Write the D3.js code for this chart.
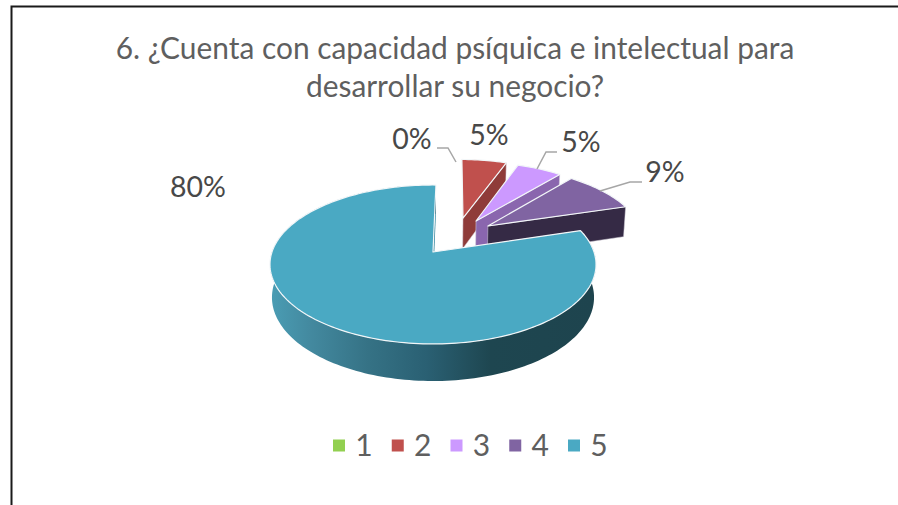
<!DOCTYPE html>
<html lang="es">
<head>
<meta charset="utf-8">
<script src="https://cdnjs.cloudflare.com/ajax/libs/d3/7.8.5/d3.min.js"></script>
<style>
html,body{margin:0;padding:0;background:#fff;overflow:hidden}
svg{display:block}
text{font-family:Lato,"Open Sans",sans-serif}
</style>
</head>
<body>
<svg id="chart" width="898" height="505"></svg>
<script>
const titleLines = ["6. ¿Cuenta con capacidad psíquica e intelectual para", "desarrollar su negocio?"];
const categories = ["1", "2", "3", "4", "5"];
const counts = [0, 3, 3, 5, 44];
const topColors = ["#92d050", "#c0504d", "#cc99ff", "#8064a2", "#4aa9c3"];
const wallColors = ["#6d9c3c", "#8f3b39", "#8a66ae", "#352a45", "#2f8199"];

// layout of the tilted pie
const W = 898, H = 505;
const cx = 433, cy = 252;
const halfWidth = 161, halfDepth = 77.5, persp = 0.157, wallHeight = 32.8, wallPersp = 0.012;
const rotation = 1.2 * Math.PI / 180;
const explode = [[0, 0], [0.2, 0.47], [0.285, 0.427], [0.36, 0.354], [0, 0]];
const labelPos = [[412, 149], [489, 145], [581, 152], [665, 182], [198, 197]];
const leaders = [
  [[437, 148], [448, 148], [456, 162]],
  null,
  [[537, 169], [546, 152], [557, 152]],
  [[600, 191], [630, 182], [642, 182]],
  null
];

const svg = d3.select("#chart");
const defs = svg.append("defs");
const grad = defs.append("linearGradient").attr("id", "wallGrad")
  .attr("gradientUnits", "userSpaceOnUse").attr("x1", 272).attr("x2", 594).attr("y1", 0).attr("y2", 0);
[[0, "#4a9cb3"], [0.12, "#43899f"], [0.3, "#357285"], [0.48, "#2a6073"], [0.68, "#1e4650"], [1, "#1e444e"]]
  .forEach(([o, c]) => grad.append("stop").attr("offset", o).attr("stop-color", c));

// frame
svg.append("path").attr("d", `M11.5,${H}V6.5H${W}`).attr("fill", "none").attr("stroke", "#1a1a1a").attr("stroke-width", 2);

// title
svg.append("g").selectAll("text").data(titleLines).join("text")
  .attr("x", 455).attr("y", (d, i) => 59 + i * 38)
  .attr("text-anchor", "middle").attr("font-size", 29.9).attr("fill", "#5f5f5f").text(d => d);

// perspective projection of a disk point (X right, V away, z downward)
function project(X, V, z) {
  const w = 1 + persp * V + wallPersp * z;
  return [cx + halfWidth * X / w, cy + (-halfDepth * V + wallHeight * z) / w];
}
const pie = d3.pie().sort(null).startAngle(rotation).endAngle(2 * Math.PI + rotation);
const arcs = pie(counts);
const line = d3.line();

function rimPoints(arc, off, z) {
  const n = Math.max(2, Math.ceil((arc.endAngle - arc.startAngle) * 40));
  return d3.range(n + 1).map(i => {
    const a = arc.startAngle + (arc.endAngle - arc.startAngle) * i / n;
    return project(off[0] + Math.sin(a), off[1] + Math.cos(a), z);
  });
}

const sliceLayer = svg.append("g");
arcs.forEach((arc, i) => {
  if (arc.value === 0) return;
  const off = explode[i];
  const g = sliceLayer.append("g").attr("class", "slice");
  const top = rimPoints(arc, off, 0), bottom = rimPoints(arc, off, 1);
  const last = top.length - 1;
  // radial wall at the end angle
  g.append("path")
    .attr("d", line([project(off[0], off[1], 0), top[last], bottom[last], project(off[0], off[1], 1)]) + "Z")
    .attr("fill", wallColors[i]).attr("stroke", i === 4 ? "none" : "#d8d4de").attr("stroke-width", 0.5);
  // outer wall of the main slice
  if (i === 4) {
    g.append("path").attr("d", line(top.concat(bottom.slice().reverse())) + "Z")
      .attr("fill", "url(#wallGrad)").attr("stroke", "none");
  }
  // top face
  g.append("path").attr("d", line([project(off[0], off[1], 0)].concat(top)) + "Z")
    .attr("fill", topColors[i]).attr("stroke", "#f2f6f8").attr("stroke-width", 1.2).attr("stroke-linejoin", "round");
});

// leader lines
svg.append("g").selectAll("path").data(leaders.filter(Boolean)).join("path")
  .attr("d", line).attr("fill", "none").attr("stroke", "#a6a6a6").attr("stroke-width", 1.5);

// data labels
const total = d3.sum(counts);
const fmt = d3.format(".0%");
svg.append("g").selectAll("text").data(counts).join("text")
  .attr("x", (d, i) => labelPos[i][0]).attr("y", (d, i) => labelPos[i][1])
  .attr("text-anchor", "middle").attr("font-size", 28.5).attr("fill", "#484848")
  .text(d => fmt(d / total));

// legend
const legendX = d3.scalePoint().domain(categories).range([339, 574]);
const legend = svg.append("g").selectAll("g").data(categories).join("g")
  .attr("transform", d => `translate(${legendX(d)},0)`);
legend.append("rect").attr("x", -6).attr("y", 439.5).attr("width", 12).attr("height", 12)
  .attr("fill", (d, i) => topColors[i]);
legend.append("text").attr("x", 25).attr("y", 455.5).attr("text-anchor", "middle")
  .attr("font-size", 30).attr("fill", "#5f5f5f").text(d => d);
</script>
</body>
</html>
